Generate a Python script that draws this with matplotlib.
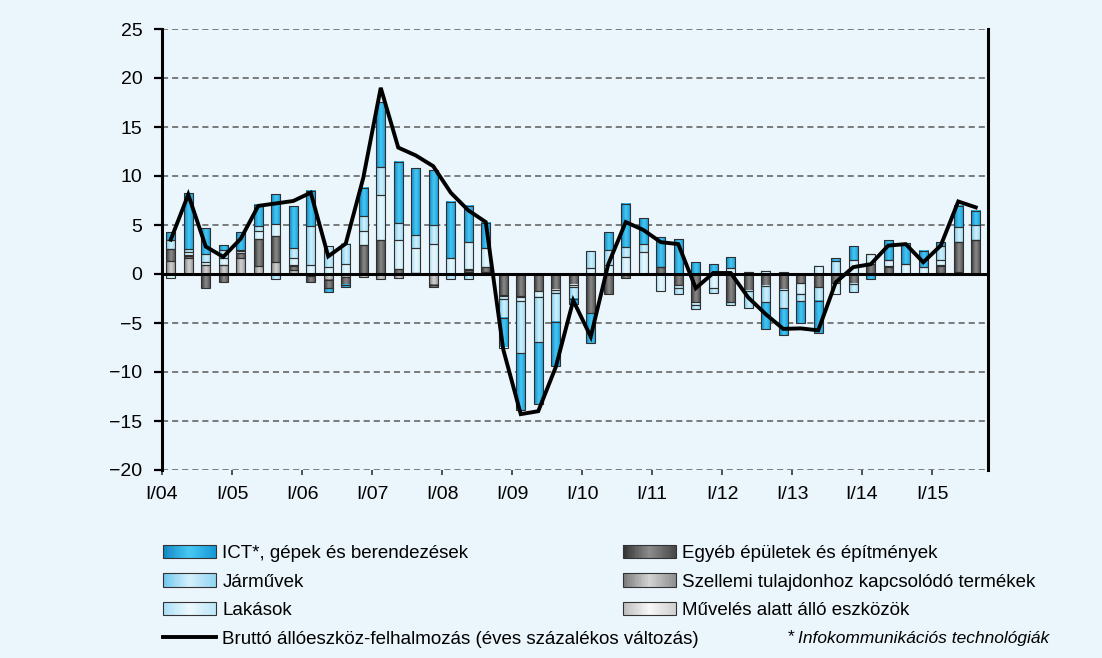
import numpy as np
import matplotlib.pyplot as plt
from matplotlib.colors import LinearSegmentedColormap
from matplotlib.patches import Rectangle
from matplotlib.lines import Line2D
from matplotlib.legend_handler import HandlerBase

plt.rcParams['font.family'] = ['Liberation Sans', 'DejaVu Sans']

# quarterly data, I/2004 - III/2015
year_ticks = ['I/04', 'I/05', 'I/06', 'I/07', 'I/08', 'I/09',
              'I/10', 'I/11', 'I/12', 'I/13', 'I/14', 'I/15']

szellemi = [1.29, 1.6, 0.95, 0.92, 1.6, 0.85, 1.26, 0.4, -0.2, -0.6,
            -0.3, -0.35, -0.55, -0.45, 0.1, -1.12, 0.0, 0.17, 0.17, 0.0,
            0.0, 0.0, 0.0, 0.0, 0.0, 0.0, 0.0, 0.0, 0.0, 0.0,
            0.0, 0.0, 0.0, 0.0, 0.0, 0.0, 0.0, 0.0, 0.0, 0.0,
            0.0, 0.0, 0.0, 0.0, 0.1, 0.23, 0.0]
egyeb = [1.26, 0.25, -1.43, -0.8, 0.5, 2.7, 2.64, 0.4, -0.6, -0.85,
         -0.8, 3.0, 3.47, 0.48, 0.0, -0.24, 0.0, 0.27, 0.58, -2.1,
         -2.2, -1.7, -1.6, -1.1, -4.0, -2.0, -0.4, 0.0, 0.75, -1.1,
         -2.9, 0.0, -2.9, -1.7, -1.19, -1.63, -0.92, -1.36, -0.92, -1.02,
         1.02, 0.75, 0.0, 0.0, 0.7, 3.0, 3.47]
muveles = [0.0, 0.12, 0.0, 0.0, 0.0, 0.0, 0.0, 0.1, 0.0, 0.0,
           0.0, 0.0, 0.0, 0.0, 0.0, 0.0, 0.0, 0.06, 0.0, -0.1,
           -0.1, 0.0, -0.08, 0.0, 0.0, 0.0, 0.0, 0.0, 0.0, 0.0,
           0.0, 0.0, 0.0, 0.0, 0.0, 0.0, 0.0, 0.0, 0.0, 0.0,
           0.0, 0.1, 0.0, 0.0, 0.08, 0.0, 0.0]
lakasok = [-0.4, 0.3, 0.24, 0.75, 0.2, 0.85, 1.17, 0.7, 0.9, 0.75,
           1.0, 1.4, 4.56, 3.0, 2.6, 3.03, 1.6, 2.72, 1.9, -0.3,
           -0.5, -0.6, -0.27, -0.25, 0.6, 0.95, 1.7, 2.2, -1.77, -0.3,
           -0.25, -1.46, 0.61, 0.17, 0.34, 0.17, -1.12, 0.85, -1.12, 1.43,
           1.02, 0.6, 1.02, 0.68, 0.55, 0.0, 0.0]
jarmuvek = [0.95, 0.3, 0.88, 0.78, 0.15, 0.45, -0.55, 1.05, 4.0, 2.1,
            2.1, 1.5, 2.92, 1.7, 1.33, 1.97, -0.55, -0.5, 0.0, -2.0,
            -5.3, -4.67, -2.96, -1.2, 1.7, 1.5, 1.02, 0.86, 0.0, -0.65,
            -0.42, -0.48, -0.26, -1.77, -1.7, -1.84, -0.75, -1.36, 1.33, -0.85,
            0.0, 0.0, 0.0, 0.0, 1.45, 1.53, 1.56]
ict = [0.75, 5.65, 2.62, 0.48, 1.8, 2.15, 3.06, 4.25, 3.6, -0.35,
       -0.25, 2.9, 6.63, 6.23, 6.83, 5.6, 5.78, 3.74, 2.6, -3.0,
       -5.78, -6.3, -4.52, -0.55, -3.0, 1.8, 4.42, 2.65, 3.0, 3.57,
       1.19, 1.0, 1.1, 0.0, -2.72, -2.72, -2.24, -3.33, 0.3, 1.39,
       -0.5, 1.98, 2.11, 1.7, 0.4, 2.21, 1.43]
gfcf = [3.5, 8.1, 2.8, 1.75, 3.6, 6.95, 7.2, 7.45, 8.3, 1.8,
        3.1, 9.8, 19.0, 12.9, 12.1, 11.0, 8.3, 6.5, 5.3, -7.7,
        -14.3, -14.0, -9.5, -2.7, -6.4, 1.0, 5.3, 4.5, 3.25, 3.05,
        -1.45, 0.1, 0.1, -2.4, -4.1, -5.6, -5.55, -5.75, -0.85, 0.7,
        1.0, 2.9, 3.05, 1.2, 2.9, 7.4, 6.8]

bg = '#ebf5fc'

# gradient colours (left edge, highlight, right edge)
grad = {
    'ict': ['#1186c4', '#48c9f3', '#1398d5'],
    'jar': ['#6ec6ec', '#d4f1fc', '#92d4f2'],
    'lak': ['#a8def5', '#edf9fe', '#bce6f8'],
    'egy': ['#333333', '#8c8c8c', '#474747'],
    'sze': ['#7a7a7a', '#d4d4d4', '#8e8e8e'],
    'muv': ['#bcbcbc', '#f8f8f8', '#cfcfcf'],
}
cmaps = {k: LinearSegmentedColormap.from_list(k, v) for k, v in grad.items()}

# stacking order from the zero line outwards
stack = [('sze', szellemi), ('egy', egyeb), ('muv', muveles),
         ('lak', lakasok), ('jar', jarmuvek), ('ict', ict)]

fig = plt.figure(figsize=(11.02, 6.58), dpi=100, facecolor=bg)
ax = fig.add_axes([162 / 1102, 1 - 470 / 658, 826 / 1102, 441 / 658])
ax.set_facecolor(bg)

x = np.arange(len(gfcf))
pos = np.zeros(len(x))
neg = np.zeros(len(x))
g = np.linspace(0, 1, 64)[np.newaxis, :]
for key, vals in stack:
    v = np.array(vals)
    bottom = np.where(v >= 0, pos, neg)
    bars = ax.bar(x, v, 0.52, bottom=bottom, facecolor='none',
                  edgecolor='#2f2f2f', linewidth=0.8, zorder=3)
    for p in bars.patches:
        if p.get_height() == 0:
            continue
        x0, y0 = p.get_x(), p.get_y()
        ax.imshow(g, cmap=cmaps[key], aspect='auto', interpolation='bicubic',
                  extent=[x0, x0 + p.get_width(), y0, y0 + p.get_height()],
                  zorder=2)
    pos = pos + np.where(v > 0, v, 0)
    neg = neg + np.where(v < 0, v, 0)

ax.axhline(0, color='black', lw=2.2, zorder=4)
ax.plot(x, gfcf, color='black', lw=2.8, zorder=5, solid_joinstyle='miter')

ax.set_xlim(-0.5, 46.7)
ax.set_ylim(-20, 25)
ax.set_yticks(range(-20, 26, 5))
ax.set_xticks(np.arange(len(year_ticks)) * 4 - 0.5)
ax.set_xticklabels(year_ticks)
ax.grid(axis='y', color='#5a5a5a', lw=1.1, linestyle=(0, (4, 2.6)), zorder=1)
ax.tick_params(axis='y', length=6, width=1.6, pad=8, labelsize=14)
ax.tick_params(axis='x', length=3.5, width=1.2, pad=8, labelsize=14,
               color='#333333')
for s in ['top', 'bottom']:
    ax.spines[s].set_visible(False)
for s in ['left', 'right']:
    ax.spines[s].set_linewidth(2.2)

# legend with gradient swatches
class GradHandler(HandlerBase):
    def __init__(self, cmap):
        super().__init__()
        self.cmap = cmap

    def create_artists(self, legend, orig_handle, xdescent, ydescent,
                       width, height, fontsize, trans):
        n = 30
        arts = []
        for k in range(n):
            arts.append(Rectangle((-xdescent + width * k / n, -ydescent),
                                  width / n * 1.1, height,
                                  facecolor=self.cmap((k + 0.5) / n),
                                  edgecolor='none', transform=trans))
        arts.append(Rectangle((-xdescent, -ydescent), width, height,
                              facecolor='none', edgecolor='#333333',
                              lw=0.8, transform=trans))
        return arts


def make_legend(keys, labels, left_px):
    handles, hmap = [], {}
    for k in keys:
        if k is None:
            h = Line2D([], [], color='black', lw=2.8)
        else:
            h = Rectangle((0, 0), 1, 1)
            hmap[h] = GradHandler(cmaps[k])
        handles.append(h)
    return fig.legend(handles, labels, handler_map=hmap, loc='upper left',
                      bbox_to_anchor=(left_px / 1102, 1 - 545 / 658),
                      frameon=False, fontsize=13.5, handlelength=2.8,
                      handleheight=0.72, handletextpad=0.37,
                      labelspacing=0.6, borderaxespad=0, borderpad=0)


make_legend(['ict', 'jar', 'lak', None],
            ['ICT*, gépek és berendezések', 'Járművek', 'Lakások',
             'Bruttó állóeszköz-felhalmozás (éves százalékos változás)'], 163)
make_legend(['egy', 'sze', 'muv'],
            ['Egyéb épületek és építmények',
             'Szellemi tulajdonhoz kapcsolódó termékek',
             'Művelés alatt álló eszközök'], 623)

fig.text(788 / 1102, 1 - 638 / 658, '* ', fontsize=12.5, va='center')
fig.text(798 / 1102, 1 - 638 / 658, 'Infokommunikációs technológiák',
         fontsize=12.5, style='italic', va='center')

fig.savefig('out.png', dpi=100, facecolor=bg)
